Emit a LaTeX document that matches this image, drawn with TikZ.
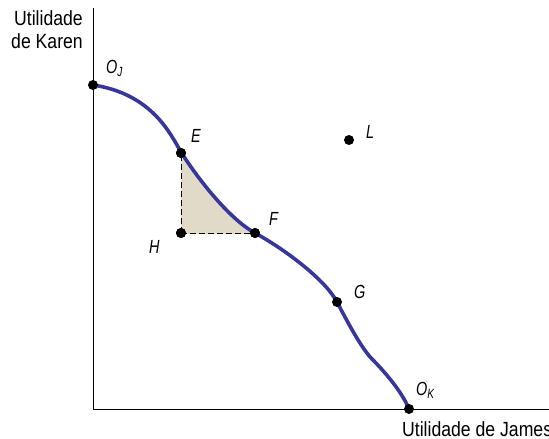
\documentclass[tikz,border=0pt]{standalone}
\usepackage{fontspec}
\setmainfont{Liberation Sans}[FakeStretch=0.86]
\newfontfamily\labfont{Liberation Sans}[FakeStretch=0.76]
\definecolor{curveblue}{RGB}{55,55,155}
\definecolor{beige}{RGB}{226,218,200}
\tikzset{
  axis/.style={line width=0.9pt, black},
  ppf/.style={line width=3.6pt, curveblue, line cap=round},
  dot/.style={circle, fill=black, inner sep=0pt, minimum size=10pt},
  lab/.style={font=\labfont\fontsize{19}{21}\selectfont\itshape, inner sep=0pt, anchor=base west},
  axlab/.style={font=\fontsize{20.5}{23}\selectfont, inner sep=0pt},
  guide/.style={line width=0.9pt, dash pattern=on 6pt off 3pt}
}
\begin{document}
\begin{tikzpicture}[x=1pt, y=-1pt]
\useasboundingbox (0,0) rectangle (549,439);
\def\ppfpath{(93,85) .. controls (152.3,93.9) and (170.8,134.7) .. (181,152)
  .. controls (197,177.5) and (228.7,218.6) .. (255,233)
  .. controls (285.7,249.9) and (325.4,279.9) .. (337,302)
  .. controls (346.3,319.7) and (361.4,348.4) .. (372,359)
  .. controls (384.7,371.7) and (402.3,392.3) .. (409,409)}
% shaded area
\begin{scope}
  \clip (181,152) rectangle (255,233);
  \fill[beige] \ppfpath -- (93,409) -- cycle;
\end{scope}
% axes
\coordinate (top) at (93,8);
\coordinate (orig) at (93,409);
\coordinate (right) at (549,409);
\draw[axis] (top) -- (orig) -- (right);
% curve
\draw[ppf] \ppfpath;
% points
\node[dot] (OJ) at (93,85) {};
\node[dot] (E) at (181,153) {};
\node[dot] (F) at (255,233) {};
\node[dot] (H) at (181,233) {};
\node[dot] (G) at (337,302) {};
\node[dot] (OK) at (409,409) {};
\node[dot] (L) at (349,140) {};
\draw[guide] (H.center) -- (E.center);
\draw[guide] (H.center) -- (F.center);
\node[dot] at (E) {};
\node[dot] at (F) {};
\node[dot] at (H) {};
% labels
\node[lab] (lOJ) at (106,73) {O\textsubscript{J}};
\node[lab] (lE) at (191,142.5) {E};
\node[lab] (lF) at (269,225) {F};
\node[lab] (lH) at (149,253) {H};
\node[lab] (lG) at (354,298) {G};
\node[lab] (lOK) at (416,395) {O\textsubscript{K}};
\node[lab] (lL) at (366,138) {L};
\node[axlab, anchor=base east] (ky1) at (83,25) {Utilidade};
\node[axlab, anchor=base east] (ky2) at (83,48) {de Karen};
\node[axlab, anchor=base west] (jx) at (402,436) {Utilidade de James};
\end{tikzpicture}
\end{document}
